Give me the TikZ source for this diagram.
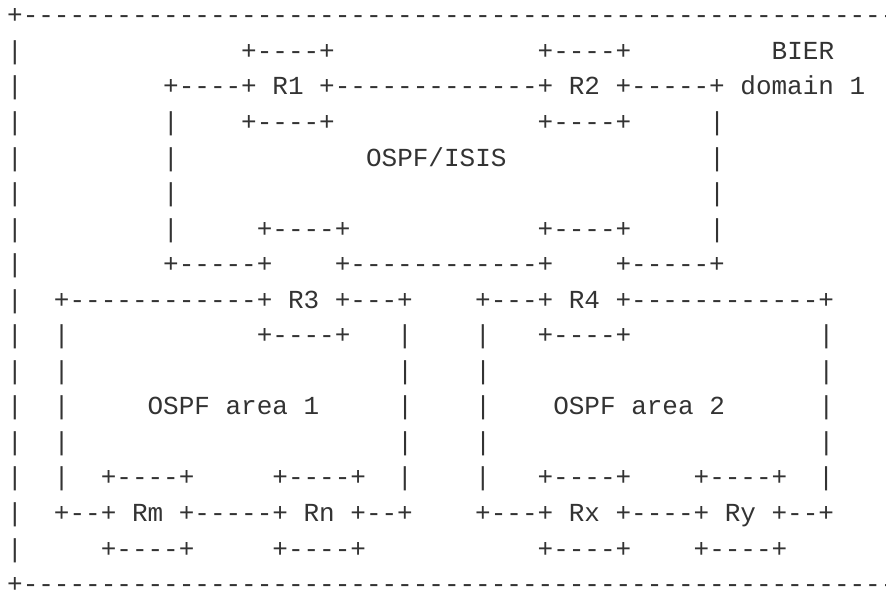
\documentclass[tikz,border=0pt]{standalone}
\usepackage{fontspec}
\setmonofont{Liberation Mono}
\definecolor{ink}{HTML}{333333}
\newlength\chw
\AtBeginDocument{\settowidth{\chw}{\ttfamily\fontsize{26pt}{26pt}\selectfont +}}
\newcommand\gp[1]{\hspace*{#1\chw}}
\frenchspacing
\tikzset{asc/.style={anchor=base west, inner sep=0pt, outer sep=0pt, text=ink,
  font=\ttfamily\fontsize{26pt}{26pt}\selectfont}}
\begin{document}
\begin{tikzpicture}[x=1pt,y=1pt]
\fill[white] (0,0) rectangle (886,-592);
\useasboundingbox (0,0) rectangle (886,-592);
\clip (0,0) rectangle (886,-592);
\node[asc] (r1)  at (7.2,-23.8)  {+------------------------------------------------------------};
\node[asc] (r2)  at (7.2,-59.35) {|\gp{14}+----+\gp{13}+----+\gp{9}BIER};
\node[asc] (r3)  at (7.2,-94.9)  {|\gp{9}+----+ R1 +-------------+ R2 +-----+ domain 1};
\node[asc] (r4)  at (7.2,-130.45){|\gp{9}|\gp{4}+----+\gp{13}+----+\gp{5}|};
\node[asc] (r5)  at (7.2,-166.0) {|\gp{9}|\gp{12}OSPF/ISIS\gp{13}|};
\node[asc] (r6)  at (7.2,-201.55){|\gp{9}|\gp{34}|};
\node[asc] (r7)  at (7.2,-237.1) {|\gp{9}|\gp{5}+----+\gp{12}+----+\gp{5}|};
\node[asc] (r8)  at (7.2,-272.65){|\gp{9}+-----+\gp{4}+------------+\gp{4}+-----+};
\node[asc] (r9)  at (7.2,-308.2) {|\gp{2}+------------+ R3 +---+\gp{4}+---+ R4 +------------+};
\node[asc] (r10) at (7.2,-343.75){|\gp{2}|\gp{12}+----+\gp{3}|\gp{4}|\gp{3}+----+\gp{12}|};
\node[asc] (r11) at (7.2,-379.3) {|\gp{2}|\gp{21}|\gp{4}|\gp{21}|};
\node[asc] (r12) at (7.2,-414.85){|\gp{2}|\gp{5}OSPF area 1\gp{5}|\gp{4}|\gp{4}OSPF area 2\gp{6}|};
\node[asc] (r13) at (7.2,-450.4) {|\gp{2}|\gp{21}|\gp{4}|\gp{21}|};
\node[asc] (r14) at (7.2,-485.95){|\gp{2}|\gp{2}+----+\gp{5}+----+\gp{2}|\gp{4}|\gp{3}+----+\gp{4}+----+\gp{2}|};
\node[asc] (r15) at (7.2,-521.5) {|\gp{2}+--+ Rm +-----+ Rn +--+\gp{4}+---+ Rx +----+ Ry +--+};
\node[asc] (r16) at (7.2,-557.05){|\gp{5}+----+\gp{5}+----+\gp{11}+----+\gp{4}+----+};
\node[asc] (r17) at (7.2,-592.6) {+------------------------------------------------------------};
\end{tikzpicture}
\end{document}
